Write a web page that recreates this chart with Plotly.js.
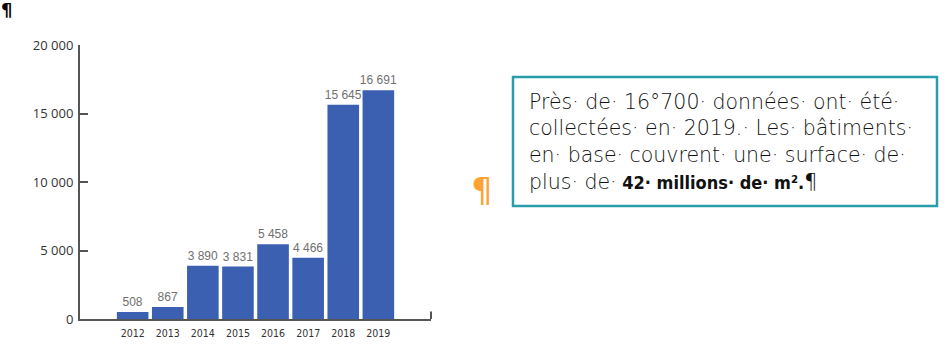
<!DOCTYPE html>
<html>
<head>
<meta charset="utf-8">
<script src="https://cdn.plot.ly/plotly-3.0.1.min.js"></script>
<style>html,body{margin:0;padding:0;background:#fff;}#chart{width:948px;height:353px;}</style>
</head>
<body>
<div id="chart"></div>
<script>
const years = ["2012","2013","2014","2015","2016","2017","2018","2019"];
const counts = [508, 867, 3890, 3831, 5458, 4466, 15645, 16691];
const countLabels = ["508","867","3 890","3 831","5 458","4 466","15 645","16 691"];
const yTickVals = [0, 5000, 10000, 15000, 20000];
const yTickText = ["0","5 000","10 000","15 000","20 000"];
const boxLines = [
  "Près· de· 16°700· données· ont· été·",
  "collectées· en· 2019.· Les· bâtiments·",
  "en· base· couvrent· une· surface· de·",
  "plus· de·<span style=\"font-family:'DejaVu Sans Condensed';font-weight:bold;font-size:18px\"> 42· millions· de· m².</span>¶"
];

const trace = {
  type: "bar",
  x: years,
  y: counts,
  text: countLabels,
  textposition: "outside",
  constraintext: "none",
  cliponaxis: false,
  textfont: {family: "Liberation Sans, Arial, sans-serif", size: 12, color: "#707070"},
  marker: {color: "#3b5fb1", line: {width: 0}},
  width: 0.9,
  hoverinfo: "none"
};

const lineY = [0.793, 0.697, 0.5985, 0.501];
const textAnns = boxLines.map((t, i) => ({
  xref: "paper", yref: "paper", x: 1.2735, y: lineY[i], xanchor: "left", yanchor: "middle",
  align: "left", showarrow: false, text: t,
  font: {family: "DejaVu Sans, sans-serif", size: 20.5, weight: 300, color: "#111"}
}));

const layout = {
  width: 948, height: 353,
  margin: {l: 80, r: 517, t: 45, b: 34},
  paper_bgcolor: "#fff", plot_bgcolor: "#fff",
  showlegend: false,
  bargap: 0.1,
  xaxis: {
    type: "category",
    range: [-1.5, 8.5],
    showline: true, linecolor: "#555", linewidth: 2,
    ticks: "", showgrid: false, zeroline: false,
    tickfont: {family: "DejaVu Sans Condensed, DejaVu Sans, sans-serif", size: 10.5, color: "#333"},
    ticklabelstandoff: 3
  },
  yaxis: {
    range: [0, 20000],
    tickvals: yTickVals, ticktext: yTickText,
    showline: true, linecolor: "#555", linewidth: 2,
    ticks: "inside", ticklen: 8, tickwidth: 2, tickcolor: "#555",
    showgrid: false, zeroline: false,
    tickfont: {family: "Open Sans, sans-serif", size: 13, color: "#333"},
    ticklabelstandoff: 2
  },
  shapes: [
    {type: "line", xref: "paper", yref: "paper", x0: 1, x1: 1, y0: 0, y1: 0.027,
     line: {color: "#555", width: 2}},
    {type: "rect", xref: "paper", yref: "paper", x0: 1.2336, x1: 2.4416, y0: 0.4124, y1: 0.8832,
     line: {color: "#2a9daa", width: 2.5}, fillcolor: "rgba(0,0,0,0)"}
  ],
  annotations: textAnns.concat([
    {xref: "paper", yref: "paper", x: 1.146, y: 0.47, xanchor: "center", yanchor: "middle",
     showarrow: false, text: "¶", font: {family: "DejaVu Sans, sans-serif", size: 34, color: "#ffa233"}},
    {xref: "paper", yref: "paper", x: -0.2105, y: 1.13, xanchor: "center", yanchor: "middle",
     showarrow: false, text: "<b>¶</b>", font: {family: "DejaVu Sans, sans-serif", size: 18, color: "#000"}}
  ])
};

Plotly.newPlot("chart", [trace], layout, {displayModeBar: false, staticPlot: true});
</script>
</body>
</html>
